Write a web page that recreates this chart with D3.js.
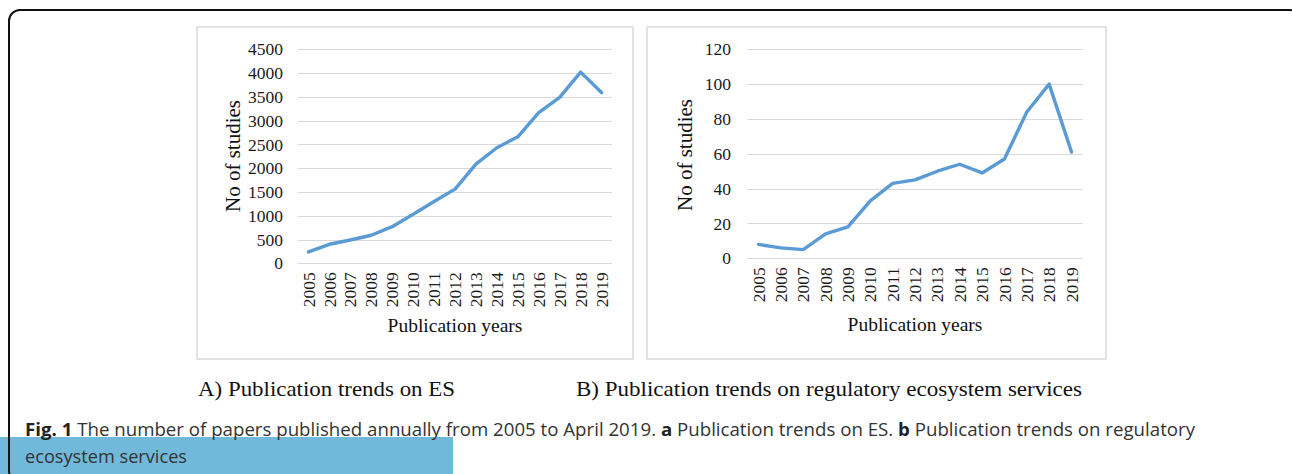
<!DOCTYPE html>
<html>
<head>
<meta charset="utf-8">
<script src="https://cdn.jsdelivr.net/npm/d3@7"></script>
<style>
  html, body { margin: 0; padding: 0; background: #fff; }
  svg { display: block; }
</style>
</head>
<body>
<svg id="chart" width="1292" height="474"></svg>
<script>
// ---- Data ----
const years = ["2005","2006","2007","2008","2009","2010","2011","2012","2013","2014","2015","2016","2017","2018","2019"];
const esStudies = [240, 400, 490, 590, 770, 1030, 1300, 1560, 2085, 2430, 2660, 3170, 3490, 4020, 3590];
const regStudies = [8, 6, 5, 14, 18, 33, 43, 45, 50, 54, 49, 57, 84, 100, 61];
const esTicks = [0, 500, 1000, 1500, 2000, 2500, 3000, 3500, 4000, 4500];
const regTicks = [0, 20, 40, 60, 80, 100, 120];
const yTitle = "No of studies";
const xTitle = "Publication years";
const panelCaptions = ["A) Publication trends on ES", "B) Publication trends on regulatory ecosystem services"];

const svg = d3.select("#chart");
const serif = "'Liberation Serif', 'Times New Roman', serif";

// blue strip behind caption line 2
svg.append("rect").attr("x", 0).attr("y", 437).attr("width", 453).attr("height", 40).attr("fill", "#70b9da");

// outer rounded frame
svg.append("rect").attr("x", 9).attr("y", 10).attr("width", 1292).attr("height", 472)
  .attr("rx", 11).attr("fill", "none").attr("stroke", "#111").attr("stroke-width", 2);

function drawPanel(cfg) {
  const g = svg.append("g");
  g.append("rect").attr("x", cfg.box[0]).attr("y", cfg.box[1]).attr("width", cfg.box[2]).attr("height", cfg.box[3])
    .attr("fill", "#fff").attr("stroke", "#d9d9d9").attr("stroke-width", 1.5);

  const x = d3.scaleBand().domain(years).range(cfg.xr);
  const y = d3.scaleLinear().domain([0, cfg.ticks[cfg.ticks.length - 1]]).range(cfg.yr);

  // gridlines
  g.append("g").selectAll("line").data(cfg.ticks).join("line")
    .attr("x1", cfg.xr[0]).attr("x2", cfg.xr[1])
    .attr("y1", d => Math.round(y(d)) + 0.5).attr("y2", d => Math.round(y(d)) + 0.5)
    .attr("stroke", "#d9d9d9").attr("stroke-width", 1);

  // y axis labels
  const ya = d3.axisLeft(y).tickValues(cfg.ticks).tickFormat(d3.format("d")).tickSize(0).tickPadding(0);
  const yg = g.append("g").attr("transform", `translate(${cfg.yLabelX},0)`).call(ya);
  yg.select(".domain").remove();
  yg.selectAll("text").attr("font-family", serif).attr("font-size", 17.5).attr("fill", "#1a1a1a");

  // x axis labels
  const xa = d3.axisBottom(x).tickSize(0).tickPadding(0);
  const xg = g.append("g").attr("transform", `translate(0,${cfg.yr[0]})`).call(xa);
  xg.select(".domain").remove();
  xg.selectAll("text")
    .attr("font-family", serif).attr("font-size", 17.5).attr("fill", "#1a1a1a")
    .attr("transform", "rotate(-90)")
    .attr("text-anchor", "end").attr("x", -9).attr("y", 0).attr("dy", "0.35em");

  // line
  const line = d3.line().x((d, i) => x(years[i]) + x.bandwidth() / 2).y(d => y(d));
  g.append("path").datum(cfg.values).attr("d", line)
    .attr("fill", "none").attr("stroke", "#5b9bd5").attr("stroke-width", 3.4)
    .attr("stroke-linejoin", "round").attr("stroke-linecap", "round");

  // titles
  g.append("text").attr("transform", `translate(${cfg.yTitlePos[0]},${cfg.yTitlePos[1]}) rotate(-90)`)
    .attr("text-anchor", "middle").attr("dy", "0.35em")
    .attr("font-family", serif).attr("font-size", 21).attr("fill", "#111").text(yTitle);
  g.append("text").attr("x", cfg.xTitlePos[0]).attr("y", cfg.xTitlePos[1])
    .attr("text-anchor", "middle")
    .attr("font-family", serif).attr("font-size", 19.5).attr("fill", "#111").text(xTitle);
}

drawPanel({
  values: esStudies, ticks: esTicks,
  box: [197, 27, 436, 332],
  xr: [298, 612], yr: [263.3, 49.3],
  yLabelX: 283, yTitlePos: [233, 156], xTitlePos: [455, 332]
});
drawPanel({
  values: regStudies, ticks: regTicks,
  box: [647, 27, 459, 332],
  xr: [747.3, 1082.7], yr: [258.3, 49.3],
  yLabelX: 731, yTitlePos: [685, 155], xTitlePos: [915, 331]
});

// panel captions
svg.append("text").attr("x", 198).attr("y", 396).attr("font-family", serif).attr("font-size", 21).attr("fill", "#111")
  .attr("textLength", 257).attr("lengthAdjust", "spacingAndGlyphs").text(panelCaptions[0]);
svg.append("text").attr("x", 576).attr("y", 396).attr("font-family", serif).attr("font-size", 21).attr("fill", "#111")
  .attr("textLength", 506).attr("lengthAdjust", "spacingAndGlyphs").text(panelCaptions[1]);

// figure caption
const sans = "'Open Sans', 'Noto Sans', sans-serif";
const cap1 = svg.append("text").attr("x", 25).attr("y", 436).attr("font-family", sans).attr("font-size", 18.5).attr("fill", "#333")
  .attr("textLength", 1170).attr("lengthAdjust", "spacingAndGlyphs");
cap1.append("tspan").attr("font-weight", "bold").attr("fill", "#222").text("Fig. 1");
cap1.append("tspan").text(" The number of papers published annually from 2005 to April 2019. ");
cap1.append("tspan").attr("font-weight", "bold").attr("fill", "#222").text("a");
cap1.append("tspan").text(" Publication trends on ES. ");
cap1.append("tspan").attr("font-weight", "bold").attr("fill", "#222").text("b");
cap1.append("tspan").text(" Publication trends on regulatory");
svg.append("text").attr("x", 25).attr("y", 463).attr("font-family", sans).attr("font-size", 18.5).attr("fill", "#333")
  .attr("textLength", 162).attr("lengthAdjust", "spacingAndGlyphs").text("ecosystem services");
</script>
</body>
</html>
